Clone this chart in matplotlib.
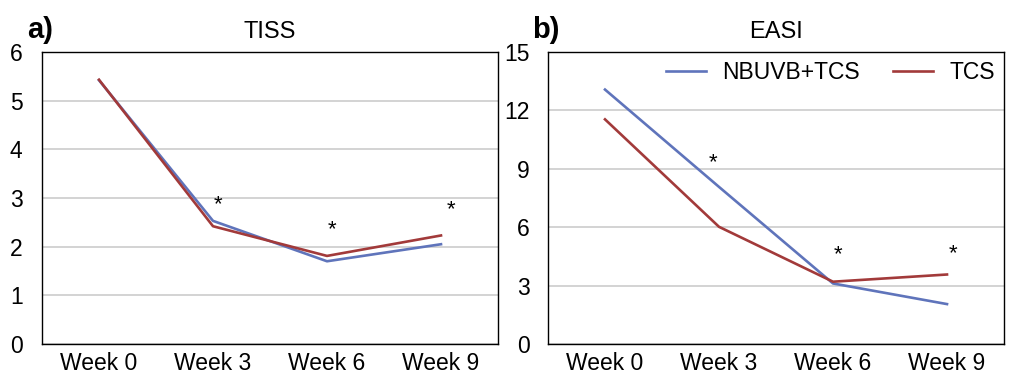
import matplotlib.pyplot as plt

weeks = ['Week 0', 'Week 3', 'Week 6', 'Week 9']

tiss_nbuvb = [5.42, 2.53, 1.70, 2.05]
tiss_tcs = [5.43, 2.42, 1.81, 2.23]
tiss_star_x = [1.04, 2.04, 3.09]
tiss_star_y = [2.87, 2.34, 2.75]

easi_nbuvb = [13.07, 8.07, 3.11, 2.05]
easi_tcs = [11.54, 6.02, 3.20, 3.57]
easi_star_x = [0.95, 2.04, 3.05]
easi_star_y = [9.32, 4.57, 4.65]

blue = '#5f74bb'
red = '#a23a3a'

plt.rcParams['font.family'] = ['Liberation Sans', 'DejaVu Sans']

fig = plt.figure(figsize=(10.14, 3.82), dpi=100)
ax1 = fig.add_axes([42 / 1014, 1 - 344 / 382, 456 / 1014, 292 / 382])
ax2 = fig.add_axes([548 / 1014, 1 - 344 / 382, 456 / 1014, 292 / 382])

x = range(len(weeks))


def style(ax, ymax, step, ypad):
    ax.set_xlim(-0.5, 3.5)
    ax.set_ylim(0, ymax)
    ax.set_yticks(range(0, ymax + 1, step))
    ax.set_xticks(list(x))
    ax.set_xticklabels(weeks)
    ax.tick_params(length=0, labelsize=16.5)
    ax.tick_params(axis='x', pad=6)
    ax.tick_params(axis='y', pad=ypad)
    ax.grid(axis='y', color='#cccccc', linewidth=1.2)
    ax.set_axisbelow(True)
    for s in ax.spines.values():
        s.set_linewidth(1.0)
        s.set_color('black')


style(ax1, 6, 1, 14)
ax1.plot(x, tiss_nbuvb, color=blue, lw=1.9, label='NBUVB+TCS')
ax1.plot(x, tiss_tcs, color=red, lw=1.9, label='TCS')
for sx, sy in zip(tiss_star_x, tiss_star_y):
    ax1.text(sx, sy, '*', ha='center', va='center', fontsize=16)
ax1.set_title('TISS', fontsize=17, pad=10)
fig.text(27 / 1014, 1 - 30 / 382, 'a)', fontsize=21, fontweight='bold', ha='left', va='center')

style(ax2, 15, 3, 13)
ax2.plot(x, easi_nbuvb, color=blue, lw=1.9, label='NBUVB+TCS')
ax2.plot(x, easi_tcs, color=red, lw=1.9, label='TCS')
for sx, sy in zip(easi_star_x, easi_star_y):
    ax2.text(sx, sy, '*', ha='center', va='center', fontsize=16)
ax2.set_title('EASI', fontsize=17, pad=10)
fig.text(532 / 1014, 1 - 30 / 382, 'b)', fontsize=21, fontweight='bold', ha='left', va='center')
ax2.legend(loc='upper right', ncol=2, frameon=False, fontsize=16.5,
           handlelength=1.75, handletextpad=0.7, columnspacing=1.45,
           borderaxespad=0.1, borderpad=0.3, bbox_to_anchor=(1.0, 1.0))

fig.savefig('out.png', dpi=100)
